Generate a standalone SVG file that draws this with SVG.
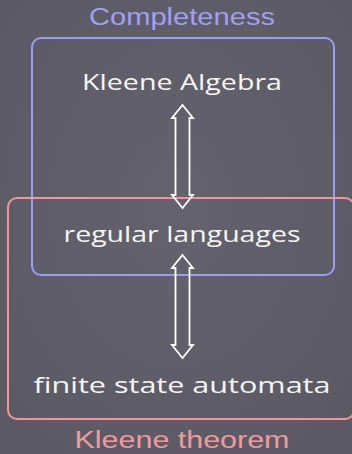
<svg xmlns="http://www.w3.org/2000/svg" width="352" height="454" viewBox="0 0 352 454">
  <defs>
    <radialGradient id="bg" cx="50%" cy="45%" r="75%">
      <stop offset="0" stop-color="#64626c"/>
      <stop offset="1" stop-color="#5a5862"/>
    </radialGradient>
  </defs>
  <style>
    .lbl { font-family: "Open Sans", "Liberation Sans", sans-serif; font-size: 22px; fill: #f6f6f6; text-anchor: middle; }
    .title { font-family: "Liberation Sans", "Open Sans", sans-serif; font-size: 23px; text-anchor: middle; }
    .blue { fill: none; stroke: #9c9cf4; stroke-width: 2; }
    .red { fill: none; stroke: #f09898; stroke-width: 2; }
    .arrow { fill: none; stroke: #ffffff; stroke-width: 1.8; stroke-linejoin: miter; }
  </style>
  <rect width="352" height="454" fill="url(#bg)"/>

  <!-- region groupings -->
  <g id="completeness">
    <rect class="blue" x="32" y="38" width="302" height="237" rx="9"/>
    <text class="title" x="182" y="25" fill="#a0a0f4" textLength="186" lengthAdjust="spacingAndGlyphs">Completeness</text>
  </g>
  <g id="kleene-theorem">
    <rect class="red" x="8" y="198" width="346" height="221" rx="9"/>
    <text class="title" x="182" y="448" fill="#f29a9a" textLength="215" lengthAdjust="spacingAndGlyphs">Kleene theorem</text>
  </g>

  <!-- nodes -->
  <g id="kleene-algebra">
    <text class="lbl" x="182" y="90" textLength="200" lengthAdjust="spacingAndGlyphs">Kleene Algebra</text>
  </g>
  <g id="regular-languages">
    <text class="lbl" x="182" y="242" textLength="237" lengthAdjust="spacingAndGlyphs">regular languages</text>
  </g>
  <g id="finite-state-automata">
    <text class="lbl" x="182" y="393" textLength="297" lengthAdjust="spacingAndGlyphs">finite state automata</text>
  </g>

  <!-- double-shafted two-way arrows -->
  <g id="connectors">
    <path class="arrow" d="M182.5 105 L193 118 L189.5 118 L189.5 195 L193 195 L182.5 208 L172 195 L175.5 195 L175.5 118 L172 118 Z"/>
    <path class="arrow" d="M182.5 255 L193 268 L189.5 268 L189.5 345 L193 345 L182.5 358 L172 345 L175.5 345 L175.5 268 L172 268 Z"/>
  </g>
</svg>
